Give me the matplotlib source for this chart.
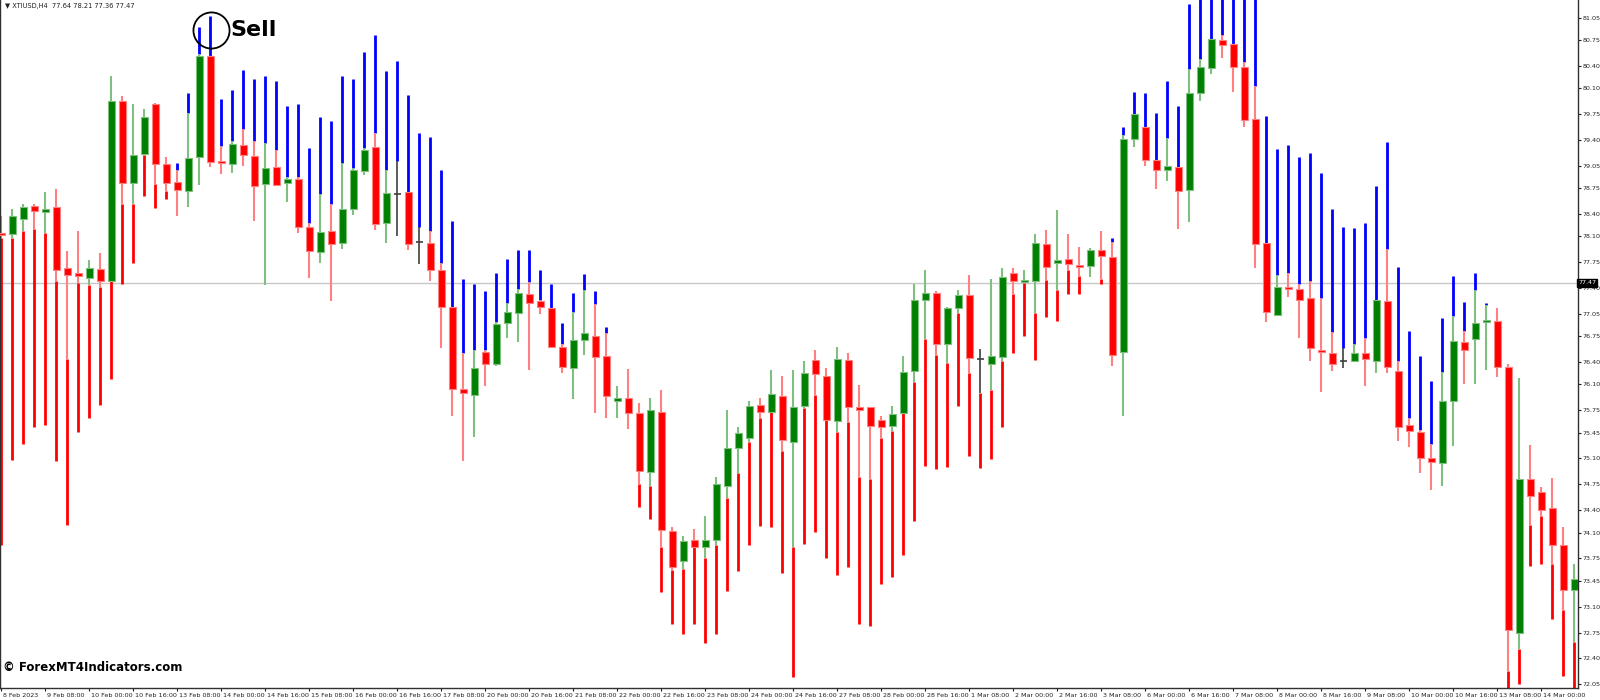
import numpy as np
import matplotlib
matplotlib.use("Agg")
import matplotlib.pyplot as plt

nan = np.nan
opens = [78.15,78.13,78.34,78.51,78.43,78.50,77.67,77.60,77.53,77.66,
 77.50,79.93,78.82,79.21,79.88,79.08,78.83,78.71,79.17,80.54,
 79.11,79.08,79.33,79.19,78.80,79.04,78.82,78.87,78.22,77.89,
 78.17,78.01,78.47,78.98,79.30,78.28,78.67,78.70,78.02,78.01,
 77.64,77.14,76.04,75.96,76.54,76.37,76.93,77.07,77.32,77.22,
 77.13,76.61,76.32,76.70,76.76,76.48,75.88,75.91,75.71,74.92,
 75.73,74.12,73.72,74.00,73.90,74.00,74.73,75.24,75.38,75.82,
 75.73,75.95,75.32,75.81,76.43,76.22,75.61,76.43,75.78,75.79,
 75.62,75.54,75.71,76.28,77.24,77.34,76.65,77.13,77.31,76.44,
 76.38,76.47,77.60,77.48,77.50,78.00,77.74,77.79,77.71,77.70,
 77.91,77.82,76.54,79.41,79.58,79.13,79.00,79.04,78.73,80.03,
 80.37,80.75,80.69,80.39,79.69,78.01,77.04,77.41,77.39,77.26,
 76.56,76.53,76.42,76.41,76.53,76.42,77.23,76.28,75.55,75.46,
 75.10,75.04,75.87,76.67,76.71,76.94,76.95,76.34,72.75,74.82,
 74.65,74.43,73.93,73.32]
highs = [78.38,78.47,78.53,78.53,78.70,78.74,77.90,78.17,77.78,77.87,
 80.26,80.00,79.88,79.82,79.90,79.17,78.99,79.76,80.56,80.54,
 79.32,79.38,79.55,79.38,79.36,79.26,78.90,78.90,78.28,78.67,
 78.53,79.09,79.02,79.29,79.50,78.99,79.11,78.70,78.23,78.17,
 77.74,77.14,76.52,76.56,76.56,76.94,77.20,77.39,77.48,77.24,
 77.13,76.64,77.08,77.38,77.18,76.79,76.08,76.31,75.85,75.91,
 76.02,74.17,74.05,74.15,74.32,74.85,75.76,75.53,75.88,75.92,
 76.29,76.22,76.30,76.41,76.56,76.32,76.61,76.52,76.09,75.79,
 75.67,75.81,76.48,77.45,77.65,77.36,77.15,77.37,77.58,76.58,
 77.52,77.67,77.67,77.64,78.13,78.18,78.45,78.13,77.96,77.94,
 78.17,78.02,79.47,79.75,79.58,79.13,79.43,79.04,80.36,80.50,
 80.77,80.82,80.69,80.45,80.13,78.01,77.58,77.61,77.45,77.50,
 77.26,76.81,76.59,76.64,76.73,77.24,77.93,76.41,75.65,75.48,
 75.29,76.27,77.02,76.82,77.38,77.17,77.13,76.37,76.19,75.28,
 74.72,74.84,74.17,73.68]
lows = [78.08,78.08,78.17,78.20,78.14,77.50,76.44,77.47,77.44,77.41,
 77.50,78.53,78.53,79.20,78.81,78.71,78.38,78.50,78.79,79.04,
 78.94,78.96,79.05,78.31,77.44,78.78,78.56,78.14,77.53,77.74,
 77.22,77.93,78.39,78.93,78.19,78.01,78.11,77.91,77.73,77.50,
 76.59,75.67,75.06,75.39,76.08,76.35,76.73,76.67,76.30,77.05,
 76.59,76.25,75.90,76.50,75.72,75.65,75.65,75.50,74.75,74.73,
 73.90,73.59,73.61,73.90,73.75,73.93,74.56,74.90,75.32,75.65,
 75.73,75.20,73.90,75.78,75.96,75.62,75.46,75.59,74.85,74.82,
 75.38,75.47,75.71,76.13,76.71,76.50,76.39,77.07,76.25,75.98,
 76.02,76.41,77.32,77.47,77.07,77.51,77.38,77.65,77.56,77.55,
 77.52,76.35,75.68,79.30,79.05,78.74,78.85,78.20,78.29,79.93,
 80.29,80.51,80.05,79.58,77.67,76.94,77.04,77.28,76.73,76.41,
 76.00,76.28,76.32,76.41,76.08,76.26,76.26,75.33,75.26,74.91,
 74.68,74.73,75.27,76.11,76.11,76.30,76.20,72.23,72.53,74.20,
 74.32,73.68,73.05,72.62]
closes = [78.12,78.38,78.50,78.44,78.47,77.65,77.58,77.57,77.67,77.50,
 79.92,78.82,79.20,79.71,79.08,78.82,78.72,79.16,80.54,79.10,
 79.09,79.34,79.20,78.78,79.02,78.79,78.87,78.23,77.90,78.16,
 78.00,78.47,78.99,79.27,78.27,78.68,78.67,78.00,78.02,77.64,
 77.15,76.04,75.98,76.32,76.38,76.92,77.08,77.33,77.20,77.15,
 76.61,76.33,76.70,76.79,76.47,75.94,75.90,75.72,74.93,75.76,
 74.13,73.64,73.99,73.91,74.00,74.75,75.24,75.44,75.81,75.73,
 75.97,75.35,75.80,76.25,76.24,75.62,76.44,75.79,75.76,75.54,
 75.53,75.70,76.27,77.24,77.33,76.65,77.13,77.31,76.45,76.44,
 76.48,77.55,77.50,77.51,78.01,77.68,77.78,77.73,77.68,77.92,
 77.84,76.50,79.41,79.75,79.13,78.99,79.05,78.71,80.04,80.39,
 80.77,80.68,80.38,79.67,77.99,77.08,77.42,77.39,77.24,76.59,
 76.54,76.37,76.42,76.53,76.44,77.24,76.33,75.52,75.47,75.11,
 75.05,75.88,76.69,76.56,76.93,76.97,76.33,72.78,74.82,74.59,
 74.41,73.93,73.32,73.47]
blue_top = [nan]*16 + [79.09,80.04,80.93,81.08,79.96,80.07,80.35,80.23,80.26,80.20,
 79.86,79.88,79.29,79.71,79.65,80.26,80.23,80.59,80.82,80.33,
 80.46,80.01,79.50,79.44,78.99,78.31,77.52,77.46,77.36,77.61,
 77.80,77.91,77.91,77.64,77.45,76.93,77.33,77.59,77.36,76.88] + [nan]*45 + \
 [78.08,79.57,80.05,80.04,79.76,80.19,79.86,81.24,81.6,81.6,
 81.6,81.6,81.6,81.6,79.73,79.28,79.33,79.17,79.23,78.96,
 78.47,78.22,78.21,78.28,78.78,79.37,77.68,76.82,76.49,76.14,
 76.99,77.56,77.21,77.61,77.20] + [nan]*8
red_bot = [73.93,75.08,75.30,75.52,75.55,75.06,74.20,75.46,75.65,75.82,
 76.17,77.46,77.74,78.65,78.48,78.61] + [nan]*42 + \
 [74.44,74.28,73.30,72.86,72.73,72.87,72.61,72.73,73.31,73.58,
 73.93,74.19,74.17,73.55,72.15,73.95,74.11,73.76,73.53,73.64,
 72.87,72.84,73.41,73.50,73.80,74.26,75.00,74.96,74.98,75.81,
 75.14,74.97,75.09,75.53,76.52,76.76,76.43,77.01,76.96,77.32,
 77.32,nan,77.46] + [nan]*36 + [71.96,72.05,73.65,73.68,72.93,72.17,71.96]

price_ticks = [81.05,80.75,80.40,80.10,79.75,79.40,79.05,78.75,78.40,78.10,77.75,77.40,
 77.05,76.75,76.40,76.10,75.75,75.45,75.10,74.75,74.40,74.10,73.75,73.45,73.10,72.75,72.40,72.05]
date_labels = ["8 Feb 2023","9 Feb 08:00","10 Feb 00:00","10 Feb 16:00","13 Feb 08:00","14 Feb 00:00",
 "14 Feb 16:00","15 Feb 08:00","16 Feb 00:00","16 Feb 16:00","17 Feb 08:00","20 Feb 00:00",
 "20 Feb 16:00","21 Feb 08:00","22 Feb 00:00","22 Feb 16:00","23 Feb 08:00","24 Feb 00:00",
 "24 Feb 16:00","27 Feb 08:00","28 Feb 00:00","28 Feb 16:00","1 Mar 08:00","2 Mar 00:00",
 "2 Mar 16:00","3 Mar 08:00","6 Mar 00:00","6 Mar 16:00","7 Mar 08:00","8 Mar 00:00",
 "8 Mar 16:00","9 Mar 08:00","10 Mar 00:00","10 Mar 16:00","13 Mar 08:00","14 Mar 00:00"]
current_price = 77.47
sell_index = 19
sell_price = 80.89

o = np.array(opens); h = np.array(highs); l = np.array(lows); c = np.array(closes)
bt = np.array(blue_top, dtype=float); rb = np.array(red_bot, dtype=float)
n = len(o)
x = np.arange(n) + 0.06

fig = plt.figure(figsize=(16, 7), dpi=100)
ax = fig.add_axes([0.0, 0.017, 0.98625, 0.983])
ax.set_xlim(-0.06, 143.4)
ax.set_ylim(72.0, 81.29)

ax.axhline(current_price, color="#c8c8c8", lw=1, zorder=0)

up = c > o; dn = c < o; dj = c == o
m = ~np.isnan(bt)
ax.vlines(x[m], h[m], bt[m], color="#0000ff", lw=2, zorder=1)
m = ~np.isnan(rb)
ax.vlines(x[m], rb[m], l[m], color="#ff0000", lw=2, zorder=1)
ax.vlines(x[up], l[up], h[up], color="#7fbf7f", lw=1.5, zorder=2)
ax.vlines(x[dn], l[dn], h[dn], color="#ff8080", lw=1.5, zorder=2)
ax.vlines(x[dj], l[dj], h[dj], color="#404040", lw=1.2, zorder=2)
bw = 0.66
ax.bar(x[up], np.maximum(c[up]-o[up], 0.03), bottom=o[up], width=bw, color="#008000",
       edgecolor="#7fbf7f", lw=0.8, zorder=3)
ax.bar(x[dn], np.maximum(o[dn]-c[dn], 0.03), bottom=c[dn], width=bw, color="#ff0000",
       edgecolor="#ff8080", lw=0.8, zorder=3)
ax.hlines(o[dj], x[dj]-bw/2, x[dj]+bw/2, color="#404040", lw=1.2, zorder=3)

ax.spines["top"].set_visible(False)
for s in ["left", "right", "bottom"]:
    ax.spines[s].set_color("#303030"); ax.spines[s].set_linewidth(1)
ax.yaxis.tick_right()
ax.set_yticks(price_ticks)
ax.set_yticklabels([f"{p:.2f}" for p in price_ticks], fontsize=4.6)
ax.tick_params(axis="y", length=2, pad=1, direction="out", colors="#202020")
xt = np.arange(0, n, 4) + 0.06
ax.set_xticks(xt)
ax.set_xticklabels(date_labels, fontsize=4.6, ha="left")
ax.tick_params(axis="x", length=2.5, pad=0.8, direction="out", colors="#202020")
for lab in ax.get_xticklabels():
    lab.set_transform(lab.get_transform() + matplotlib.transforms.ScaledTranslation(1.5/100, 0, fig.dpi_scale_trans))

ax.text(1.0, current_price, f"{current_price:.2f}", transform=ax.get_yaxis_transform(),
        fontsize=4.6, color="white", va="center", ha="left",
        bbox=dict(boxstyle="square,pad=0.2", fc="black", ec="black"))

ax.text(0.003, 0.996, "\u25bc XTIUSD,H4  77.64 78.21 77.36 77.47", transform=ax.transAxes,
        fontsize=4.8, va="top", ha="left", color="#202020")

ax.plot([sell_index + 0.1], [sell_price], marker="o", ms=26, mfc="none", mec="black", mew=1.3, zorder=5)
ax.text(sell_index + 1.9, sell_price, "Sell", fontsize=16, fontweight="bold", va="center", ha="left")

fig.text(0.002, 0.047, "\u00a9 ForexMT4Indicators.com", fontsize=8.5, fontweight="bold", va="center", ha="left")

fig.savefig("out.png", dpi=100, facecolor="white")
